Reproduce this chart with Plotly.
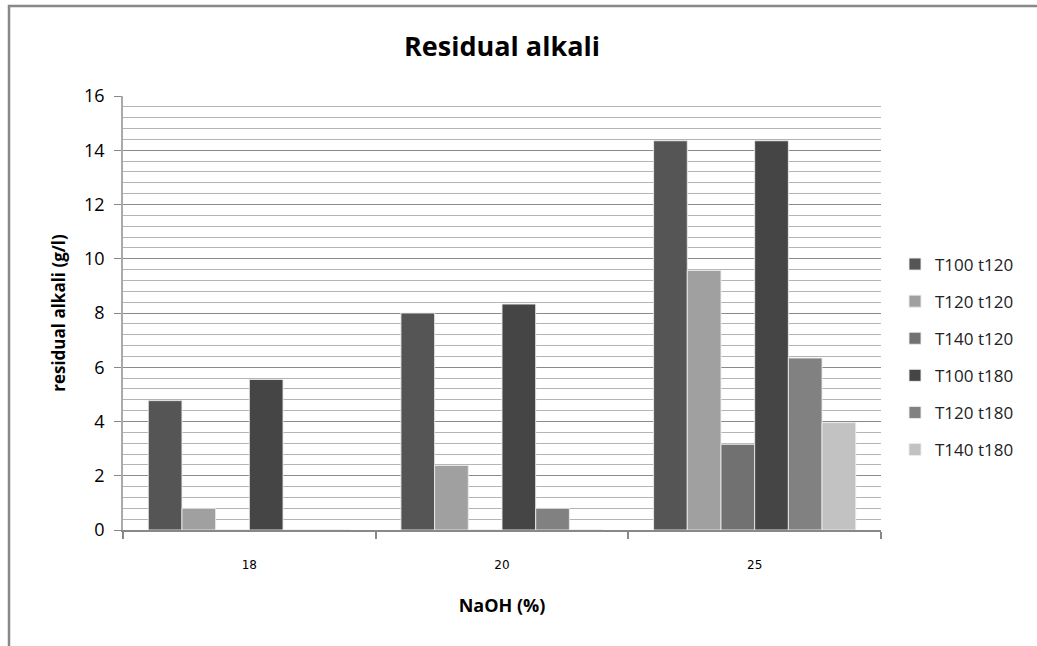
import plotly.graph_objects as go

categories = ["18", "20", "25"]
series_names = ["T100 t120", "T120 t120", "T140 t120", "T100 t180", "T120 t180", "T140 t180"]
t100_t120 = [4.77, 8.0, 14.35]
t120_t120 = [0.8, 2.38, 9.57]
t140_t120 = [0, 0, 3.16]
t100_t180 = [5.55, 8.33, 14.35]
t120_t180 = [0, 0.8, 6.34]
t140_t180 = [0, 0, 3.96]
series_values = [t100_t120, t120_t120, t140_t120, t100_t180, t120_t180, t140_t180]
colors = ["#555555", "#a0a0a0", "#717171", "#454545", "#818181", "#c2c2c2"]

fig = go.Figure()
for i, (name, vals, col) in enumerate(zip(series_names, series_values, colors)):
    fig.add_trace(go.Bar(
        x=categories, y=vals, name=name, legendgroup=f"g{i}",
        marker=dict(color=col, line=dict(color="rgba(235,235,235,0.9)", width=1)),
    ))

L, R, T, B = 123, 156, 96, 116
W, H = 1037, 646
pw, ph = W - L - R, H - T - B

fig.update_layout(
    width=W, height=H,
    margin=dict(l=L, r=R, t=T, b=B),
    paper_bgcolor="white", plot_bgcolor="white",
    barmode="group", bargap=0.2, bargroupgap=0,
    font=dict(family="Open Sans", color="#000000"),
    title=dict(text="<b>Residual alkali</b>", x=0.5, xref="paper", xanchor="center",
               y=1 - 47 / H, yanchor="middle",
               font=dict(family="Open Sans", size=27, color="#000000")),
    legend=dict(x=(895 - L) / pw, xanchor="left", y=(530 - 357) / ph, yanchor="middle",
                traceorder="grouped", tracegroupgap=12,
                font=dict(family="Open Sans", size=17, color="#222222"),
                bgcolor="rgba(0,0,0,0)"),
    showlegend=True,
)

fig.update_xaxes(
    type="category", showline=True, linecolor="#888888", linewidth=1.5,
    ticks="outside", tickson="boundaries", ticklen=7, tickcolor="#888888", tickwidth=1.5,
    tickfont=dict(family="DejaVu Sans", size=12, color="#000000"),
    ticklabelstandoff=23,
    title=dict(text="<b>NaOH (%)</b>", font=dict(family="Open Sans", size=18, color="#000000"),
               standoff=28),
    showgrid=False,
)
fig.update_yaxes(
    range=[0, 16], dtick=2, tick0=0,
    showline=True, linecolor="#aaaaaa", linewidth=1.5,
    ticks="outside", ticklen=7, tickcolor="#888888", tickwidth=1,
    tickfont=dict(family="Open Sans", size=18, color="#000000"),
    ticklabelstandoff=6,
    showgrid=True, gridcolor="#8a8a8a", gridwidth=1,
    minor=dict(dtick=0.4, tick0=0, showgrid=True, gridcolor="#b4b4b4", gridwidth=1),
    zeroline=False,
    title=dict(text="<b>residual alkali (g/l)</b>",
               font=dict(family="Open Sans", size=17, color="#000000"), standoff=14),
)

# outer chart border (only left and top are visible in the frame)
fig.add_shape(type="rect", xref="paper", yref="paper",
              x0=(9 - L) / pw, x1=(W + 20 - L) / pw,
              y0=(530 - (H + 20)) / ph, y1=(530 - 6) / ph,
              line=dict(color="#888888", width=2.5), fillcolor="rgba(0,0,0,0)", layer="below")

fig.write_html("out.html")
